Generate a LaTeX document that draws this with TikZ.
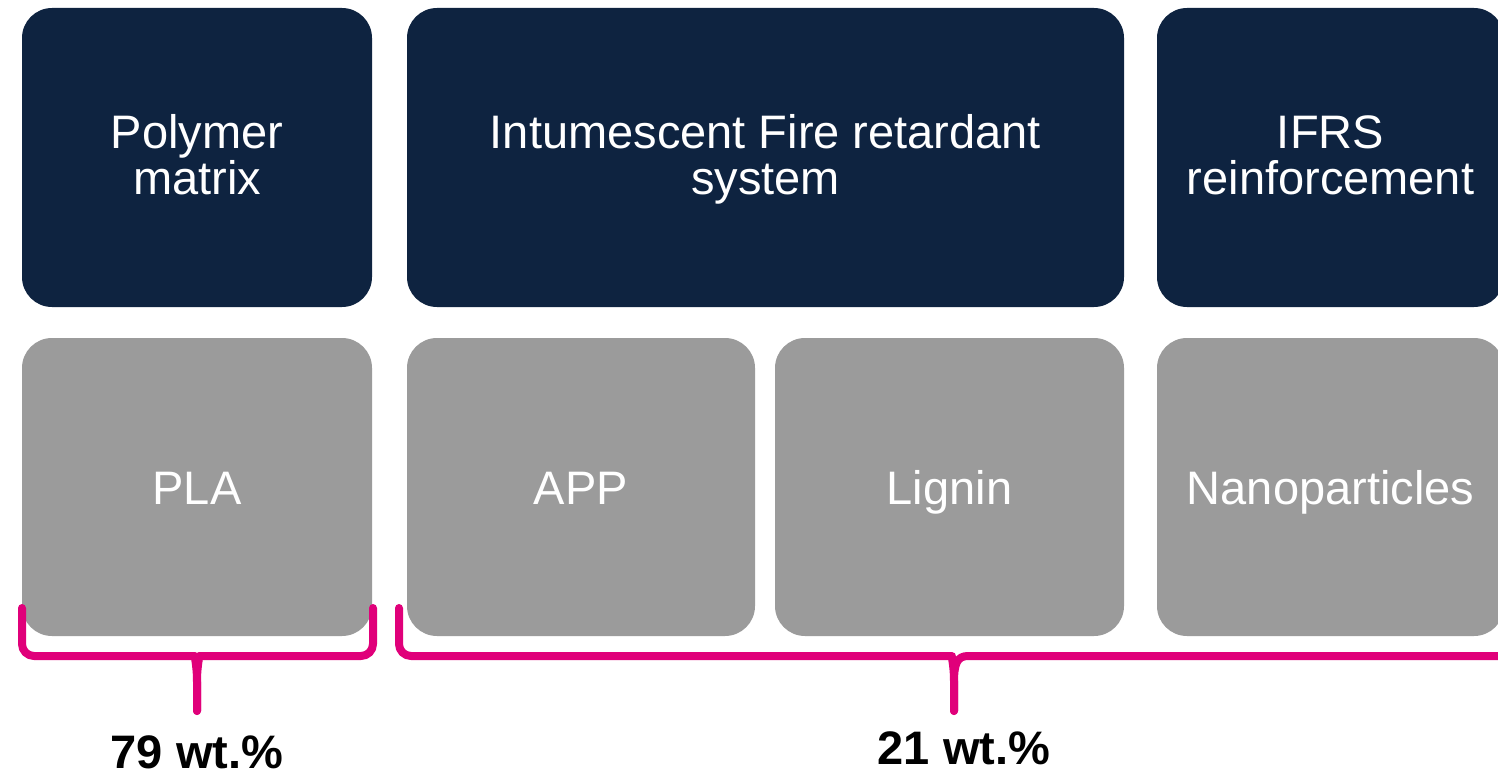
\documentclass[tikz,border=0pt]{standalone}
\usepackage{fontspec}
\setmainfont{Liberation Sans}
\definecolor{navy}{HTML}{0E2340}
\definecolor{boxgray}{HTML}{9B9B9B}
\definecolor{brace}{HTML}{E0007A}
\begin{document}
\begin{tikzpicture}[x=1pt,y=-1pt,
  topbox/.style={fill=navy,draw=none,rounded corners=30pt,text=white,align=center,
    minimum height=299pt,inner sep=0pt,text height=82pt,text depth=7pt,
    font=\fontsize{47}{47}\selectfont},
  botbox/.style={fill=boxgray,draw=none,rounded corners=30pt,text=white,align=center,
    minimum height=298pt,inner sep=0pt,text height=34pt,text depth=0pt,
    font=\fontsize{47}{47}\selectfont},
  bracestroke/.style={draw=brace,line width=8pt,line cap=round,line join=round},
  pct/.style={font=\bfseries\fontsize{47}{47}\selectfont,text=black,inner sep=0pt,anchor=base}]
\useasboundingbox (0,0) rectangle (1498,770);
\clip (0,0) rectangle (1498,770);
% top row
\node[topbox,minimum width=350pt] (poly) at (197,157.5) {Polymer\\matrix};
\node[topbox,minimum width=717pt] (ifr) at (765.5,157.5) {Intumescent Fire retardant\\system};
\node[topbox,minimum width=347pt] (ifrs) at (1330.5,157.5) {IFRS\\reinforcement};
% bottom row
\node[botbox,minimum width=350pt] (pla) at (197,487) {PLA};
\node[botbox,minimum width=348pt] (app) at (581,487) {APP};
\node[botbox,minimum width=349pt] (lig) at (949.5,487) {Lignin};
\node[botbox,minimum width=347pt] (nano) at (1330.5,487) {Nanoparticles};
% braces
\coordinate (ltip) at (197,711);
\coordinate (rtip) at (954,711);
\draw[bracestroke,rounded corners=12pt] (22,608) -- (22,656) -- (183,656)
  [sharp corners] .. controls (194,656) and (197,664) .. (197,682) -- (ltip);
\draw[bracestroke,rounded corners=12pt] (373,608) -- (373,656) -- (211,656)
  [sharp corners] .. controls (200,656) and (197,664) .. (197,682) -- (ltip);
\draw[bracestroke,rounded corners=12pt] (399,608) -- (399,656) -- (940,656)
  [sharp corners] .. controls (951,656) and (954,664) .. (954,682) -- (rtip);
\draw[bracestroke] (1520,656) -- (968,656)
  .. controls (957,656) and (954,664) .. (954,682) -- (rtip);
% labels
\node[pct] (p79) at (197,768) {79 wt.\%};
\node[pct] (p21) at (964,764) {21 wt.\%};
\end{tikzpicture}
\end{document}
